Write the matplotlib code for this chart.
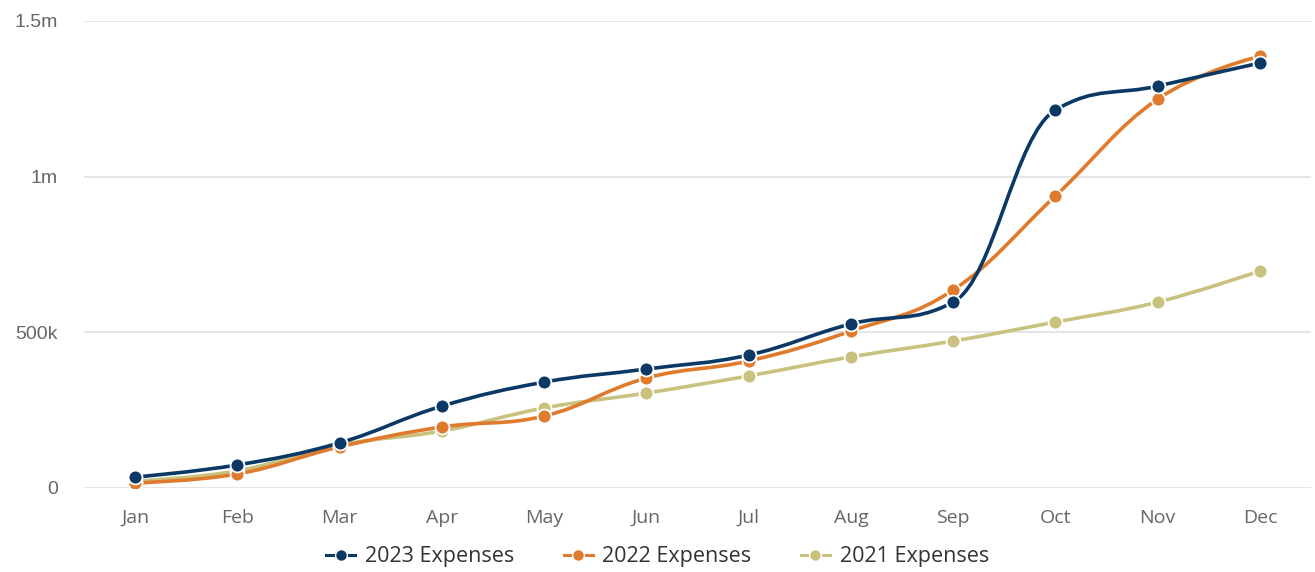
import numpy as np
import matplotlib
matplotlib.use("Agg")
import matplotlib.pyplot as plt
from matplotlib.path import Path
from matplotlib.patches import PathPatch
from matplotlib.lines import Line2D
from matplotlib.ticker import FuncFormatter

plt.rcParams['font.family'] = ['Open Sans', 'DejaVu Sans']

months = ["Jan", "Feb", "Mar", "Apr", "May", "Jun", "Jul", "Aug", "Sep", "Oct", "Nov", "Dec"]
exp_2023 = [35000, 74000, 145000, 263000, 340000, 382000, 427000, 527000, 597000, 1214000, 1291000, 1365000]
exp_2022 = [16000, 45000, 132000, 196000, 231000, 353000, 408000, 504000, 636000, 938000, 1249000, 1387000]
exp_2021 = [22000, 55000, 138000, 183000, 257000, 305000, 360000, 421000, 472000, 533000, 597000, 697000]

series = [
    ("2021 Expenses", exp_2021, "#c9c27f"),
    ("2022 Expenses", exp_2022, "#e07a2c"),
    ("2023 Expenses", exp_2023, "#0c3866"),
]


def spline_path(xs, ys, smoothing=1.5):
    # highcharts-style spline, control points per point
    n = len(xs)
    denom = smoothing + 1
    left = [None] * n
    right = [None] * n
    for i in range(n):
        x, y = xs[i], ys[i]
        if i == 0 or i == n - 1:
            left[i] = (x, y)
            right[i] = (x, y)
            continue
        lx, ly = xs[i - 1], ys[i - 1]
        nx, ny = xs[i + 1], ys[i + 1]
        lcx = (smoothing * x + lx) / denom
        lcy = (smoothing * y + ly) / denom
        rcx = (smoothing * x + nx) / denom
        rcy = (smoothing * y + ny) / denom
        if rcx != lcx:
            corr = ((rcy - lcy) * (rcx - x)) / (rcx - lcx) + y - rcy
            lcy += corr
            rcy += corr
        if lcy > ly and lcy > y:
            lcy = max(ly, y)
            rcy = 2 * y - lcy
        elif lcy < ly and lcy < y:
            lcy = min(ly, y)
            rcy = 2 * y - lcy
        if rcy > ny and rcy > y:
            rcy = max(ny, y)
            lcy = 2 * y - rcy
        elif rcy < ny and rcy < y:
            rcy = min(ny, y)
            lcy = 2 * y - rcy
        left[i] = (lcx, lcy)
        right[i] = (rcx, rcy)
    verts = [(xs[0], ys[0])]
    codes = [Path.MOVETO]
    for i in range(1, n):
        verts += [right[i - 1], left[i], (xs[i], ys[i])]
        codes += [Path.CURVE4] * 3
    return Path(verts, codes)


fig = plt.figure(figsize=(13.15, 5.72), dpi=100)
ax = fig.add_axes([0.0639, 0.1469, 0.9331, 0.8164])

x = np.arange(len(months))
for name, vals, col in series:
    p = spline_path(list(x), vals)
    ax.add_patch(PathPatch(p, facecolor="none", edgecolor=col, lw=2.6, zorder=3,
                           capstyle="round", joinstyle="round"))
    ax.plot(x, vals, linestyle="none", marker="o", ms=10, mfc=col, mec="white",
            mew=1.3, zorder=4)

ax.set_xlim(-0.5, 11.5)
ax.set_ylim(0, 1500000)
ax.set_yticks([0, 500000, 1000000, 1500000])
ax.yaxis.set_major_formatter(FuncFormatter(
    lambda v, p: "0" if v == 0 else ("%gm" % (v / 1e6) if v >= 1e6 else "%dk" % (v / 1e3))))
ax.set_xticks(x)
ax.set_xticklabels(months)
ax.grid(axis="y", color="#e3e3e3", lw=1.3, zorder=0)
ax.set_axisbelow(True)
for s in ax.spines.values():
    s.set_visible(False)
ax.tick_params(axis="both", length=0, colors="#666666", labelsize=14)
ax.tick_params(axis="x", pad=15)
ax.tick_params(axis="y", pad=19)
for lbl in ax.get_yticklabels():
    lbl.set_fontfamily(["Liberation Sans", "DejaVu Sans"])
    lbl.set_fontsize(14)

handles = []
for name, vals, col in reversed(series):
    handles.append(Line2D([0], [0], color=col, lw=2.2, marker="o", ms=8.5,
                          mfc=col, mec="white", mew=1, label=name))
leg = fig.legend(handles=handles, loc="lower center", bbox_to_anchor=(0.5, -0.026),
                 ncol=3, frameon=False, fontsize=15.5, handlelength=1.35,
                 columnspacing=2.3, handletextpad=0.45)
for t in leg.get_texts():
    t.set_color("#333333")

fig.savefig("out.png", dpi=100)
